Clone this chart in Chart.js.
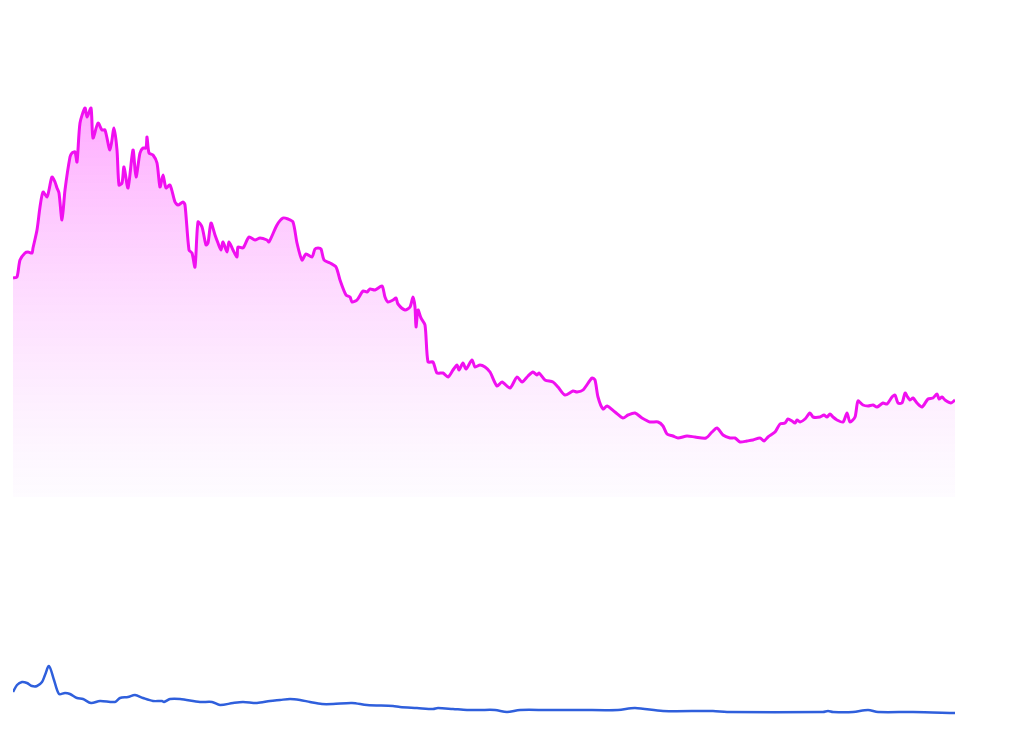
<!DOCTYPE html>
<html>
<head>
<meta charset="utf-8">
<script src="https://cdn.jsdelivr.net/npm/chart.js@4"></script>
<style>
    body { margin: 0; background: #fff; }
    #wrap { position: relative; width: 1024px; height: 746px; }
    #price { position: absolute; left: 0; top: 0; }
    #volume { position: absolute; left: 0; top: 497px; }
</style>
</head>
<body>
<div id="wrap">
    <canvas id="price" width="1024" height="497"></canvas>
    <canvas id="volume" width="1024" height="249"></canvas>
</div>
<script>
// price line (day index, value)
const priceDays = [0, 4, 7, 12, 15, 19, 20, 24, 27, 30, 34, 36, 39, 42, 44, 46, 49, 52, 57, 59, 62, 64, 67, 72, 74, 78, 80, 85, 89, 92, 97, 101, 104, 106, 109, 111, 115, 120, 123, 127, 130, 133, 134, 136, 140, 144, 147, 150, 153, 157, 162, 165, 170, 172, 176, 179, 182, 185, 189, 193, 195, 198, 202, 205, 208, 210, 214, 216, 220, 224, 225, 230, 236, 242, 247, 254, 256, 264, 270, 275, 280, 284, 289, 293, 299, 302, 305, 308, 311, 317, 323, 327, 333, 337, 339, 344, 350, 354, 357, 362, 369, 372, 375, 380, 383, 385, 392, 397, 400, 402, 403, 405, 408, 412, 415, 420, 424, 430, 435, 440, 444, 446, 450, 453, 459, 462, 467, 472, 477, 484, 489, 497, 504, 509, 515, 520, 524, 526, 532, 540, 545, 552, 560, 564, 570, 579, 582, 585, 590, 594, 602, 610, 615, 622, 629, 637, 645, 650, 654, 660, 665, 674, 682, 693, 699, 704, 710, 717, 722, 727, 734, 740, 747, 751, 755, 762, 767, 772, 775, 779, 782, 784, 787, 792, 797, 800, 807, 811, 814, 817, 820, 824, 830, 834, 837, 842, 845, 850, 855, 860, 864, 870, 874, 879, 882, 885, 889, 892, 894, 897, 900, 904, 909, 915, 920, 924, 926, 929, 932, 938, 942];
const priceValues = [21.9, 22.0, 23.7, 24.4, 24.5, 24.4, 24.9, 26.7, 29.0, 30.5, 30.0, 30.7, 32.0, 31.5, 30.9, 30.4, 27.7, 30.7, 34.0, 34.4, 34.5, 33.5, 37.4, 38.9, 38.0, 38.9, 35.9, 37.4, 36.7, 36.7, 34.7, 36.9, 34.7, 31.2, 31.4, 33.0, 30.9, 34.7, 32.0, 34.4, 34.9, 34.9, 36.0, 34.4, 34.2, 33.4, 31.0, 32.2, 30.9, 31.2, 29.5, 29.2, 29.5, 29.2, 24.7, 24.4, 23.0, 27.5, 27.0, 25.2, 25.4, 27.4, 26.2, 25.4, 24.7, 25.5, 24.5, 25.5, 24.7, 24.0, 25.0, 24.9, 26.0, 25.7, 25.9, 25.7, 25.5, 27.2, 27.9, 27.8, 27.5, 25.4, 23.7, 24.3, 24.0, 24.8, 24.9, 24.8, 23.7, 23.4, 23.0, 21.7, 20.2, 20.0, 19.5, 19.7, 20.6, 20.5, 20.8, 20.7, 21.1, 20.0, 19.5, 19.7, 19.9, 19.3, 18.7, 19.0, 20.0, 19.0, 17.0, 18.7, 17.9, 17.2, 13.5, 13.5, 12.4, 12.4, 12.0, 12.7, 13.2, 12.7, 13.4, 12.8, 13.7, 13.0, 13.2, 13.0, 12.5, 11.1, 11.5, 10.9, 12.0, 11.5, 12.1, 12.5, 12.2, 12.4, 11.7, 11.5, 11.0, 10.2, 10.6, 10.5, 10.7, 11.9, 11.7, 10.0, 8.8, 9.1, 8.5, 7.9, 8.2, 8.4, 7.9, 7.5, 7.5, 7.1, 6.3, 6.1, 5.9, 6.1, 6.0, 5.9, 6.5, 6.9, 6.2, 5.9, 5.9, 5.5, 5.6, 5.7, 5.9, 5.6, 6.0, 6.5, 7.3, 7.4, 7.8, 7.6, 7.4, 7.7, 7.5, 7.8, 8.4, 8.0, 8.0, 8.2, 8.0, 8.3, 8.0, 7.7, 7.5, 8.4, 7.5, 8.0, 9.6, 9.2, 9.1, 9.2, 9.0, 9.4, 9.3, 10.0, 10.2, 9.4, 9.4, 10.4, 10.1, 9.7, 9.9, 9.4, 9.0, 9.8, 9.9, 10.3, 9.8, 10.0, 9.7, 9.4, 9.7];

// volume line (day index, value)
const volumeDays = [0, 4, 9, 14, 19, 24, 29, 32, 36, 41, 46, 52, 57, 64, 70, 78, 87, 102, 107, 115, 122, 130, 140, 149, 151, 157, 167, 187, 199, 207, 220, 230, 244, 257, 267, 277, 287, 297, 309, 320, 339, 354, 380, 387, 404, 420, 425, 440, 454, 467, 482, 494, 507, 534, 567, 605, 622, 650, 700, 714, 810, 815, 820, 840, 855, 865, 900, 942];
const volumeValues = [5.4, 6.1, 6.4, 6.3, 6.0, 6.0, 6.4, 7.1, 8.0, 6.6, 5.2, 5.3, 5.2, 4.8, 4.7, 4.3, 4.5, 4.4, 4.8, 4.9, 5.1, 4.8, 4.5, 4.5, 4.4, 4.7, 4.7, 4.4, 4.4, 4.1, 4.3, 4.4, 4.3, 4.5, 4.6, 4.7, 4.6, 4.4, 4.2, 4.2, 4.3, 4.1, 4.0, 3.9, 3.8, 3.7, 3.8, 3.7, 3.6, 3.6, 3.6, 3.4, 3.6, 3.6, 3.6, 3.6, 3.8, 3.5, 3.5, 3.4, 3.4, 3.5, 3.4, 3.4, 3.6, 3.4, 3.4, 3.3];

function toPoints(xs, ys) {
    return xs.map((x, i) => ({ x: x, y: ys[i] }));
}

function hiddenScales(yMax) {
    return {
        x: { type: "linear", min: 0, max: 942, display: false },
        y: { min: 0, max: yMax, display: false }
    };
}

const baseOptions = {
    responsive: false,
    animation: false,
    layout: { padding: { left: 13, right: 69, top: 0, bottom: 0 } },
    plugins: { legend: { display: false }, tooltip: { enabled: false } },
    elements: { point: { radius: 0 } }
};

new Chart(document.getElementById("price").getContext("2d"), {
    type: "line",
    data: {
        datasets: [{
            data: toPoints(priceDays, priceValues),
            borderColor: "#f010f0",
            borderWidth: 3,
            tension: 0.25,
            fill: "origin",
            backgroundColor: function (context) {
                let chart = context.chart;
                let area = chart.chartArea;
                if (!area) return null;
                let top = chart.scales.y.getPixelForValue(40);
                let g = chart.ctx.createLinearGradient(0, top, 0, area.bottom);
                g.addColorStop(0, "rgba(255, 0, 255, 0.34)");
                g.addColorStop(1, "rgba(245, 230, 255, 0.15)");
                return g;
            }
        }]
    },
    options: Object.assign({}, baseOptions, { scales: hiddenScales(49.7) })
});

new Chart(document.getElementById("volume").getContext("2d"), {
    type: "line",
    data: {
        datasets: [{
            data: toPoints(volumeDays, volumeValues),
            borderColor: "#2f5fdc",
            borderWidth: 2.5,
            tension: 0.3,
            fill: false
        }]
    },
    options: Object.assign({}, baseOptions, { scales: hiddenScales(24.9) })
});
</script>
</body>
</html>
